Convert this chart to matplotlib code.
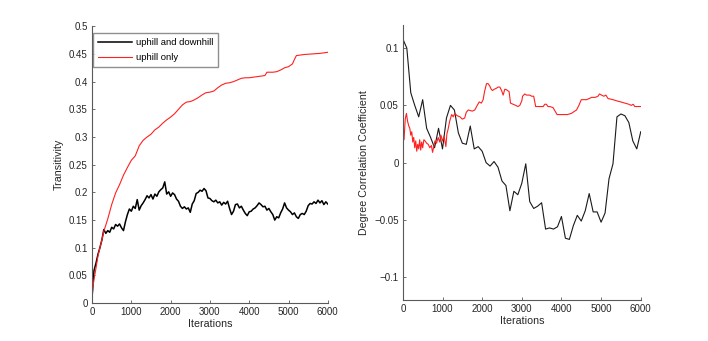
import numpy as np
import matplotlib
matplotlib.use('Agg')
import matplotlib.pyplot as plt

plt.rcParams['font.family'] = ['Liberation Sans', 'DejaVu Sans']
tick_fs = 7.0
label_fs = 7.7
legend_fs = 6.8
plt.rc('xtick', labelsize=tick_fs, direction='in')
plt.rc('ytick', labelsize=tick_fs, direction='in')
plt.rc('axes', labelsize=label_fs)
plt.rcParams['xtick.major.size'] = 2.2
plt.rcParams['ytick.major.size'] = 2.2

#--------------data-------------------------------------------------------
# left panel, black: uphill and downhill (every 50 iterations)
trans_both_x = np.arange(0, 6001, 50)
trans_both = [0.011, 0.059, 0.072, 0.088, 0.100, 0.114, 0.133, 0.126, 0.131, 0.128,
              0.137, 0.134, 0.142, 0.139, 0.143, 0.136, 0.131, 0.147, 0.160, 0.170,
              0.166, 0.175, 0.171, 0.187, 0.168, 0.176, 0.181, 0.187, 0.194, 0.190,
              0.196, 0.188, 0.197, 0.193, 0.201, 0.205, 0.208, 0.219, 0.197, 0.201,
              0.193, 0.199, 0.196, 0.188, 0.184, 0.175, 0.171, 0.174, 0.170, 0.172,
              0.164, 0.179, 0.185, 0.198, 0.200, 0.204, 0.202, 0.207, 0.203, 0.190,
              0.189, 0.185, 0.183, 0.186, 0.181, 0.183, 0.177, 0.182, 0.179, 0.184,
              0.171, 0.160, 0.166, 0.178, 0.179, 0.172, 0.175, 0.168, 0.162, 0.158,
              0.165, 0.166, 0.170, 0.172, 0.176, 0.181, 0.178, 0.174, 0.175, 0.168,
              0.171, 0.165, 0.160, 0.150, 0.156, 0.154, 0.163, 0.170, 0.181, 0.172,
              0.168, 0.165, 0.160, 0.163, 0.156, 0.153, 0.160, 0.162, 0.160, 0.166,
              0.176, 0.180, 0.179, 0.183, 0.180, 0.186, 0.181, 0.185, 0.178, 0.183,
              0.179]

# left panel, red: uphill only
trans_up_x = [0, 25, 50, 75, 100, 150, 200, 250, 300, 350, 400, 450, 500, 600, 700, 800,
              900, 1000, 1100, 1200, 1300, 1400, 1500, 1600, 1700, 1800, 1900, 2000, 2100,
              2200, 2300, 2400, 2500, 2600, 2700, 2800, 2900, 3000, 3100, 3200, 3300, 3400,
              3500, 3600, 3700, 3800, 3900, 4000, 4200, 4400, 4450, 4600, 4700, 4800, 4900,
              5000, 5100, 5150, 5200, 5400, 5600, 5800, 6000]
trans_up = [0.011, 0.030, 0.043, 0.053, 0.063, 0.085, 0.100, 0.114, 0.130, 0.141, 0.152,
            0.165, 0.178, 0.199, 0.214, 0.231, 0.245, 0.258, 0.266, 0.284, 0.294, 0.300,
            0.305, 0.313, 0.318, 0.325, 0.331, 0.336, 0.342, 0.350, 0.358, 0.363, 0.364,
            0.367, 0.371, 0.376, 0.380, 0.381, 0.383, 0.389, 0.394, 0.397, 0.398, 0.400,
            0.403, 0.406, 0.407, 0.407, 0.409, 0.411, 0.417, 0.417, 0.418, 0.421, 0.425,
            0.427, 0.432, 0.440, 0.447, 0.449, 0.450, 0.451, 0.453]

# right panel, black: uphill and downhill (every 100 iterations)
dcc_both_x = np.arange(0, 6001, 100)
dcc_both = [0.108, 0.100, 0.061, 0.050, 0.040, 0.055, 0.030, 0.022, 0.013, 0.030,
            0.012, 0.039, 0.050, 0.046, 0.026, 0.017, 0.016, 0.032, 0.012, 0.014,
            0.010, 0.000, -0.003, 0.001, -0.004, -0.016, -0.020, -0.042, -0.025, -0.028,
            -0.018, -0.001, -0.034, -0.040, -0.038, -0.035, -0.058, -0.057, -0.058, -0.056,
            -0.047, -0.066, -0.067, -0.055, -0.046, -0.051, -0.042, -0.027, -0.043, -0.043,
            -0.052, -0.044, -0.014, -0.001, 0.040, 0.0425, 0.041, 0.035, 0.019, 0.012,
            0.027]

# right panel, red: uphill only
dcc_up_x = [0, 10, 30, 60, 90, 120, 150, 175, 200, 225, 250, 275, 300, 325, 350, 375, 400,
            425, 450, 475, 500, 530, 560, 600, 640, 680, 720, 750, 780, 810, 850, 890, 930,
            960, 1000, 1040, 1085, 1110, 1140, 1180, 1230, 1270, 1310, 1370, 1440, 1500,
            1560, 1600, 1650, 1750, 1815, 1860, 1925, 1980, 2025, 2060, 2110, 2150, 2190,
            2230, 2260, 2300, 2360, 2400, 2445, 2490, 2530, 2570, 2600, 2640, 2680, 2715,
            2780, 2850, 2900, 2950, 3000, 3020, 3075, 3120, 3200, 3250, 3300, 3350, 3450,
            3540, 3580, 3620, 3660, 3710, 3790, 3840, 3890, 4040, 4150, 4250, 4380, 4440,
            4500, 4630, 4700, 4760, 4850, 4920, 4960, 5010, 5070, 5120, 5175, 5300, 5390,
            5500, 5600, 5700, 5760, 5810, 5850, 5900, 6000]
dcc_up = [0.000, 0.030, 0.020, 0.038, 0.043, 0.036, 0.032, 0.030, 0.024, 0.027, 0.018,
          0.022, 0.013, 0.019, 0.010, 0.016, 0.012, 0.020, 0.011, 0.018, 0.013, 0.020,
          0.019, 0.017, 0.016, 0.013, 0.015, 0.009, 0.014, 0.019, 0.017, 0.022, 0.018,
          0.024, 0.019, 0.023, 0.014, 0.025, 0.029, 0.036, 0.042, 0.040, 0.043, 0.041,
          0.040, 0.038, 0.039, 0.044, 0.046, 0.045, 0.046, 0.049, 0.053, 0.052, 0.055,
          0.062, 0.069, 0.069, 0.067, 0.064, 0.063, 0.064, 0.065, 0.066, 0.066, 0.063,
          0.059, 0.064, 0.064, 0.063, 0.062, 0.052, 0.051, 0.050, 0.049, 0.050, 0.054,
          0.058, 0.060, 0.059, 0.059, 0.058, 0.058, 0.049, 0.049, 0.049, 0.051, 0.051,
          0.049, 0.049, 0.048, 0.045, 0.042, 0.042, 0.042, 0.043, 0.046, 0.050, 0.055,
          0.055, 0.056, 0.057, 0.057, 0.058, 0.060, 0.059, 0.058, 0.059, 0.056, 0.055,
          0.054, 0.053, 0.052, 0.051, 0.050, 0.051, 0.049, 0.049, 0.049]

labels = ['uphill and downhill', 'uphill only']


def style_axes(ax):
    for side in ['top', 'right']:
        ax.spines[side].set_visible(False)
    for side in ['left', 'bottom']:
        ax.spines[side].set_color('0.35')
        ax.spines[side].set_linewidth(0.8)
    ax.tick_params(colors='0.35', labelcolor='0.15', width=0.6, pad=3)
    ax.set_xlim(0, 6000)
    ax.set_xticks(np.arange(0, 6001, 1000))
    ax.set_xlabel('Iterations', labelpad=1.5, color='0.15')


fig = plt.figure(figsize=(7.08, 3.41), dpi=100)

#-----------------------------left----------------------------------------
ax1 = fig.add_axes([0.130, 0.111, 0.333, 0.812])
ax1.plot(trans_both_x, trans_both, color='k', lw=1.1, label=labels[0])
ax1.plot(trans_up_x, trans_up, color='#ff2020', lw=0.8, label=labels[1])
style_axes(ax1)
ax1.set_ylim(0, 0.5)
ax1.set_yticks(np.arange(0, 0.501, 0.05))
ax1.set_yticklabels(['0', '0.05', '0.1', '0.15', '0.2', '0.25', '0.3', '0.35', '0.4', '0.45', '0.5'])
ax1.set_ylabel('Transitivity', labelpad=4, color='0.15')
leg = ax1.legend(loc='upper left', bbox_to_anchor=(0.004, 0.975), borderaxespad=0,
                 fancybox=False, fontsize=legend_fs, handlelength=3.6, borderpad=0.55,
                 labelspacing=0.6, handletextpad=0.37)
leg.get_frame().set_edgecolor('0.45')
leg.get_frame().set_linewidth(1.0)

#-----------------------------right----------------------------------------
ax2 = fig.add_axes([0.569, 0.120, 0.336, 0.806])
ax2.plot(dcc_both_x, dcc_both, color='0.1', lw=0.8)
ax2.plot(dcc_up_x, dcc_up, color='#ff2020', lw=0.8)
style_axes(ax2)
ax2.set_ylim(-0.12, 0.12)
ax2.set_yticks([-0.1, -0.05, 0, 0.05, 0.1])
ax2.set_yticklabels(['\u22120.1', '\u22120.05', '0', '0.05', '0.1'])
ax2.set_ylabel('Degree Correlation Coefficient', labelpad=4, color='0.15')

fig.savefig('out.png', dpi=100)
